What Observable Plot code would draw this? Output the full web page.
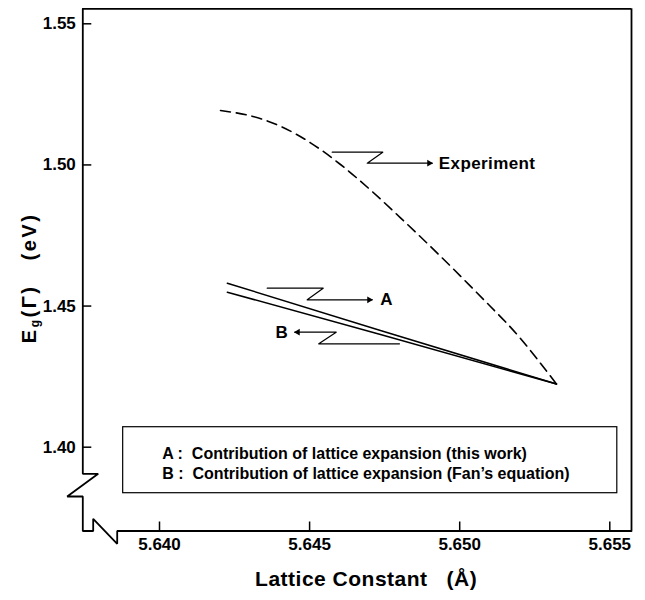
<!DOCTYPE html>
<html><head><meta charset="utf-8">
<script src="https://cdn.jsdelivr.net/npm/d3@7"></script>
<script src="https://cdn.jsdelivr.net/npm/@observablehq/plot@0.6"></script>
<style>body{margin:0;background:#fff}</style>
</head><body><div id="chart"></div>
<script>
// axis ranges and ticks
const xDomain = [5.637445, 5.655723];
const yDomain = [1.37031, 1.555314];
const xTicks = [5.640, 5.645, 5.650, 5.655];
const yTicks = [1.40, 1.45, 1.50, 1.55];

// Experiment (dashed)
const expX = [5.642032, 5.643031, 5.644031, 5.645030, 5.646029, 5.647028, 5.648028, 5.649027, 5.650026, 5.651026, 5.652025, 5.653224];
const expY = [1.519284, 1.517406, 1.513686, 1.507841, 1.500153, 1.491119, 1.481270, 1.471102, 1.460615, 1.449845, 1.438508, 1.422388];

// A: lattice expansion (this work); B: lattice expansion (Fan's equation)
const aX = [5.64226, 5.64736, 5.653224];
const aY = [1.45810, 1.44134, 1.42239];
const bX = [5.64226, 5.64736, 5.653224];
const bY = [1.45491, 1.43993, 1.42239];

// annotation leaders
const leaderA = {x: [5.643588, 5.645453, 5.644920, 5.647085], y: [1.456328, 1.456328, 1.452219, 1.452219]};
const leaderB = {x: [5.644507, 5.645886, 5.645306, 5.647994], y: [1.440740, 1.440740, 1.436630, 1.436630]};
const leaderE = {x: [5.645753, 5.647438, 5.646919, 5.649084], y: [1.504510, 1.504510, 1.500613, 1.500613]};
const arrowTipsRight = [{x: 5.647085, y: 1.452219}, {x: 5.649084, y: 1.500613}];
const arrowTipsLeft = [{x: 5.644507, y: 1.440740}];
const labelsStart = [{x: 5.647352, y: 1.452219, text: "A"}, {x: 5.649304, y: 1.500613, text: "Experiment"}];
const labelsEnd = [{x: 5.644274, y: 1.440740, text: "B"}];

// legend box
const legendBox = [{x1: 5.63879, x2: 5.65525, y1: 1.38370, y2: 1.40708}];
const legendLines = [
  {x: 5.64009, y: 1.39766, text: "A :\u00a0 Contribution of lattice expansion (this work)"},
  {x: 5.64009, y: 1.39057, text: "B :\u00a0 Contribution of lattice expansion (Fan\u2019s equation)"}
];

// left + bottom axis line with break marks
const axisPathX = [xDomain[0], xDomain[0], 5.637958, 5.636925, xDomain[0], xDomain[0], 5.637791, 5.637791, 5.638591, 5.638591, xDomain[1]];
const axisPathY = [yDomain[1], 1.39058, 1.39058, 1.38253, 1.38253, yDomain[0], yDomain[0], 1.374633, 1.365776, yDomain[0], yDomain[0]];

const xTitle = "Lattice Constant\u00a0\u00a0\u00a0(\u00c5)";
const yTitle = "Eg(\u0393)\u00a0\u00a0\u00a0(eV)";

const zip = (xs, ys) => xs.map((x, i) => ({x, y: ys[i]}));
const font = "'Liberation Sans', Arial, Helvetica, sans-serif";
const W = 645, H = 600, ML = 82.3, MR = 14, MT = 8.3, MB = 69.5;
// inward tick length (9px) expressed in data units of each scale
const tickLen = 9;
const kx = (xDomain[1] - xDomain[0]) / (W - ML - MR);
const ky = (yDomain[1] - yDomain[0]) / (H - MT - MB);

const chart = Plot.plot({
  width: W, height: H,
  marginLeft: ML, marginRight: MR, marginTop: MT, marginBottom: MB,
  style: {fontFamily: font, background: "white", color: "black"},
  x: {domain: xDomain},
  y: {domain: yDomain},
  marks: [
    Plot.ruleY([yDomain[1]], {stroke: "black", strokeWidth: 1.8}),
    Plot.ruleX([xDomain[1]], {stroke: "black", strokeWidth: 1.8}),
    Plot.line(zip(axisPathX, axisPathY), {x: "x", y: "y", stroke: "black", strokeWidth: 1.8, strokeLinejoin: "miter"}),
    Plot.ruleX(xTicks, {x: d => d, y1: yDomain[0], y2: yDomain[0] + tickLen * ky, stroke: "black", strokeWidth: 1.5}),
    Plot.ruleY(yTicks, {y: d => d, x1: xDomain[0], x2: xDomain[0] + tickLen * kx, stroke: "black", strokeWidth: 1.5}),
    Plot.axisX(xTicks, {tickSize: 0, tickPadding: 7, fontSize: 17, fontWeight: "bold", label: null, tickFormat: d3.format(".3f")}),
    Plot.axisY(yTicks, {tickSize: 0, tickPadding: 7, fontSize: 17, fontWeight: "bold", label: null, tickFormat: d3.format(".2f")}),
    Plot.line(zip(expX, expY), {x: "x", y: "y", curve: "natural", stroke: "black", strokeWidth: 1.6, strokeDasharray: "10,6"}),
    Plot.line(zip(aX, aY), {x: "x", y: "y", stroke: "black", strokeWidth: 1.5}),
    Plot.line(zip(bX, bY), {x: "x", y: "y", stroke: "black", strokeWidth: 1.5}),
    ...[leaderA, leaderB, leaderE].map(l => Plot.line(zip(l.x, l.y), {x: "x", y: "y", stroke: "black", strokeWidth: 1.2})),
    Plot.dot(arrowTipsRight, {x: "x", y: "y", symbol: "triangle2", r: 3.2, fill: "black", rotate: 90, dx: -3}),
    Plot.dot(arrowTipsLeft, {x: "x", y: "y", symbol: "triangle2", r: 3.2, fill: "black", rotate: -90, dx: 3}),
    Plot.text(labelsStart, {x: "x", y: "y", text: "text", textAnchor: "start", fontSize: 17, fontWeight: "bold", lineAnchor: "middle", fill: "black"}),
    Plot.text(labelsEnd, {x: "x", y: "y", text: "text", textAnchor: "end", fontSize: 17, fontWeight: "bold", lineAnchor: "middle", fill: "black"}),
    Plot.rect(legendBox, {x1: "x1", x2: "x2", y1: "y1", y2: "y2", fill: "none", stroke: "black", strokeWidth: 1.2}),
    Plot.text(legendLines, {x: "x", y: "y", text: "text", textAnchor: "start", lineAnchor: "middle", fontSize: 16, fontWeight: "bold", fill: "black"}),
    Plot.text([xTitle], {frameAnchor: "bottom", textAnchor: "middle", lineAnchor: "middle", dx: 9, dy: 48.5, fontSize: 21, fontWeight: "bold", fill: "black"}),
    Plot.text([yTitle], {frameAnchor: "left", textAnchor: "middle", lineAnchor: "middle", rotate: -90, dx: -53, dy: 8, fontSize: 20, fontWeight: "bold", fill: "black"})
  ]
});

// letter spacing tweaks and subscript "g" in the y title
const ns = "http://www.w3.org/2000/svg";
chart.querySelectorAll("text").forEach(t => {
  const s = t.textContent;
  if (s === xTitle) t.setAttribute("letter-spacing", "0.5");
  if (s === "Experiment") t.setAttribute("letter-spacing", "0.4");
  if (s === yTitle) {
    t.textContent = "";
    t.setAttribute("letter-spacing", "2.5");
    const a = document.createElementNS(ns, "tspan"); a.textContent = "E";
    const b = document.createElementNS(ns, "tspan"); b.textContent = "g"; b.setAttribute("font-size", "12"); b.setAttribute("dy", "3");
    const c = document.createElementNS(ns, "tspan"); c.textContent = "(\u0393)\u00a0\u00a0\u00a0(eV)"; c.setAttribute("dy", "-3");
    t.append(a, b, c);
  }
});
document.getElementById("chart").append(chart);
</script>
</body></html>
